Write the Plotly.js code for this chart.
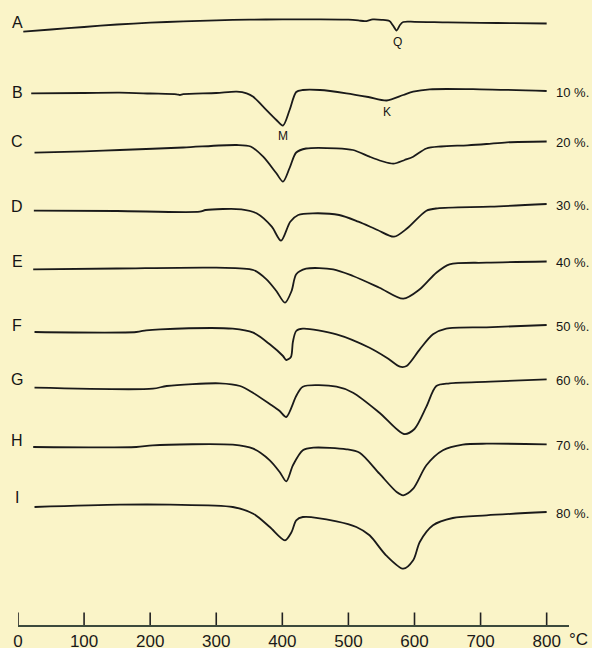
<!DOCTYPE html>
<html>
<head>
<meta charset="utf-8">
<script src="https://cdn.plot.ly/plotly-3.0.1.min.js"></script>
<style>html,body{margin:0;padding:0;background:#faf4c8;}#chart{width:592px;height:648px;}</style>
</head>
<body>
<div id="chart"></div>
<script>
// Temperature ticks (°C)
const tickTemps = [0, 100, 200, 300, 400, 500, 600, 700, 800];
const tickLabels = ["0", "100", "200", "300", "400", "500", "600", "700", "800"];

// Curve identifiers and percentage labels
const curveNames = ["A", "B", "C", "D", "E", "F", "G", "H", "I"];
const percentLabels = ["", "10 %.", "20 %.", "30 %.", "40 %.", "50 %.", "60 %.", "70 %.", "80 %."];

// DTA traces: temperature (°C) and vertical trace position (chart units, downward)
const A_T = [8, 50, 100, 150, 200, 250, 300, 350, 400, 450, 500, 515, 525, 537, 550, 562, 567, 573, 578, 583, 600, 650, 700, 750, 800];
const A_y = [31.7, 29.5, 27, 24.5, 22.7, 21.4, 20.3, 19.7, 19.4, 19.3, 19.6, 20.4, 21.2, 19.4, 19.8, 21, 25, 30.5, 25, 22, 21.8, 22.4, 22.8, 23.2, 23.5];

const B_T = [20, 100, 154, 200, 240, 245, 250, 300, 331, 346, 356, 371, 391, 401, 411, 421, 431, 457, 497, 530, 558, 583, 598, 623, 699, 800];
const B_y = [93.3, 93, 92.7, 93.5, 94.3, 95, 94.2, 93, 91.7, 93.3, 96.7, 106.7, 120, 125.5, 110, 92, 90, 90, 93.3, 97, 100.5, 95, 91.7, 89.3, 89.3, 91];

const C_T = [25, 100, 154, 250, 331, 352, 371, 391, 401, 411, 421, 436, 482, 507, 532, 550, 568, 585, 598, 618, 640, 680, 709, 740, 800];
const C_y = [152.7, 151.3, 150, 147.5, 145, 146.5, 156.7, 173.3, 181.7, 168, 152.5, 148.5, 148.3, 150, 156.7, 161, 163.7, 160, 156.7, 148.5, 146.5, 145.3, 144, 142.3, 141.5];

const D_T = [24, 150, 275, 284, 338, 361, 384, 398, 412, 424, 446, 486, 515, 544, 569, 589, 618, 635, 715, 800];
const D_y = [210.7, 211, 211.7, 210, 209.3, 213.3, 226.7, 240.7, 221.7, 215, 213.3, 215, 221.7, 230, 236.7, 228.3, 210.7, 208.3, 206.7, 204];

const E_T = [23, 150, 300, 356, 376, 391, 404, 414, 421, 436, 477, 507, 547, 583, 608, 633, 653, 709, 800];
const E_y = [269.3, 268.5, 267.7, 270, 279.3, 291, 302.7, 291, 274.3, 268.7, 269.3, 276, 287.7, 298.7, 289.3, 272.7, 264.3, 262.7, 261.5];

const F_T = [25, 179, 194, 215, 325, 356, 381, 401, 406, 413, 416, 421, 431, 482, 532, 558, 578, 588, 608, 628, 648, 709, 800];
const F_y = [332, 332, 330.3, 329.3, 328.7, 332.7, 344.3, 356, 360, 357, 341.7, 331, 328.7, 334.3, 347.7, 357.7, 366.7, 366, 349.3, 334.3, 328.7, 327.3, 325];

const G_T = [25, 204, 225, 305, 336, 356, 381, 396, 406, 421, 431, 482, 507, 547, 584, 600, 618, 633, 653, 715, 800];
const G_y = [387.7, 388.7, 386, 383.3, 386, 393, 404, 411, 417, 396, 386.7, 386.7, 392.7, 412.7, 434, 429, 406.7, 386, 383.3, 381.7, 379.3];

const H_T = [23, 179, 204, 325, 356, 381, 396, 406, 416, 431, 447, 497, 517, 547, 573, 583, 598, 618, 643, 673, 709, 800];
const H_y = [447, 447, 445.3, 444.7, 448.7, 460.3, 472, 481.3, 465.3, 450.3, 447.7, 449.3, 452.7, 473.7, 492, 495.3, 488.7, 465.3, 450.3, 444.7, 443.7, 444.3];

const I_T = [25, 154, 230, 325, 356, 381, 404, 414, 421, 431, 482, 512, 532, 557, 583, 598, 608, 628, 658, 709, 800];
const I_y = [507, 504.7, 504.7, 507, 513.7, 527, 540.3, 532, 520.3, 517, 521.3, 527, 535.3, 555.3, 568.7, 560.3, 542, 525.3, 518, 515.3, 512];

// Peak markers
const peakLabels = ["Q", "M", "K"];
const peakT = [575, 401, 559];
const peakY = [42, 136, 112];

const curvesT = [A_T, B_T, C_T, D_T, E_T, F_T, G_T, H_T, I_T];
const curvesY = [A_y, B_y, C_y, D_y, E_y, F_y, G_y, H_y, I_y];
const labelY = [22, 92, 141, 206, 261, 325, 379, 440, 497];

const BG = '#faf4c8';
const INK = '#1a1a1a';
const FONT = 'Liberation Sans, Arial, sans-serif';

const traces = curvesT.map((t, i) => ({
  x: t, y: curvesY[i], type: 'scatter', mode: 'lines',
  line: {color: INK, width: 1.8, shape: 'spline', smoothing: 0.8},
  hoverinfo: 'skip', showlegend: false
}));

const annotations = [];
curveNames.forEach((n, i) => {
  annotations.push({
    text: n, xref: 'paper', yref: 'y', x: -0.001, y: labelY[i],
    xanchor: 'center', yanchor: 'middle', showarrow: false,
    font: {family: FONT, size: 16, color: '#151515'}
  });
});
percentLabels.forEach((p, i) => {
  if (!p) return;
  const ys = curvesY[i];
  annotations.push({
    text: p, xref: 'paper', yref: 'y', x: 0.973, y: ys[ys.length - 1] + 1,
    xanchor: 'left', yanchor: 'middle', showarrow: false,
    font: {family: FONT, size: 13, color: '#151515'}
  });
});
peakLabels.forEach((p, i) => {
  annotations.push({
    text: p, xref: 'x', yref: 'y', x: peakT[i], y: peakY[i],
    xanchor: 'center', yanchor: 'middle', showarrow: false,
    font: {family: FONT, size: 12, color: '#151515'}
  });
});
annotations.push({
  text: '°C', xref: 'paper', yref: 'paper', x: 0.996, y: -0.004,
  xanchor: 'left', yanchor: 'top', showarrow: false,
  font: {family: FONT, size: 17, color: '#151515'}
});

// tick marks drawn upward from the axis line, at the tick temperatures
const shapes = tickTemps.map(t => ({
  type: 'line', xref: 'x', yref: 'y', x0: t, x1: t, y0: 625, y1: 612.5,
  line: {color: '#222', width: 1.6}
}));

const layout = {
  width: 592, height: 648,
  margin: {l: 18, r: 23, t: 0, b: 23, pad: 0},
  paper_bgcolor: BG, plot_bgcolor: BG,
  showlegend: false,
  xaxis: {
    range: [0, 833.8], showgrid: false, zeroline: false,
    showline: true, linecolor: '#3c4a3c', linewidth: 2,
    ticks: '', tickvals: tickTemps, ticktext: tickLabels, ticklabelstandoff: 0,
    tickfont: {family: FONT, size: 17, color: '#1a1a1a'},
    fixedrange: true
  },
  yaxis: {
    range: [625, 0], visible: false, showgrid: false, zeroline: false, fixedrange: true
  },
  shapes: shapes,
  annotations: annotations
};

Plotly.newPlot('chart', traces, layout, {displayModeBar: false, staticPlot: true});
</script>
</body>
</html>
